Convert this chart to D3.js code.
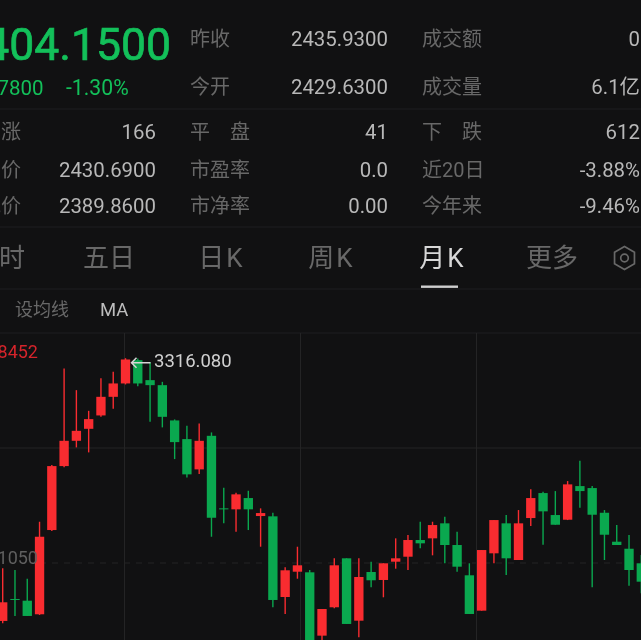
<!DOCTYPE html>
<html>
<head>
<meta charset="utf-8">
<script src="https://cdn.jsdelivr.net/npm/d3@7"></script>
<style>
html, body { margin: 0; padding: 0; background: #111112; overflow: hidden; }
svg { display: block; }
text { font-family: Roboto, "Noto Sans CJK SC", sans-serif; }
</style>
</head>
<body>
<div id="chart"></div>
<script>
// monthly candles
const opens  = [2347.5,2428.5,2422.2,2372.1,2682.6,2918.3,3011.5,3055.7,3105.0,3173.6,3222.9,3308.7,3235.1,3216.6,3086.6,3017.8,2906.2,3029.9,2762.5,2758.9,2800.5,2734.2,2733.1,2435.8,2529.0,2526.8,2293.3,2397.9,2578.4,2348.5,2527.9,2498.5,2565.9,2584.3,2645.8,2652.0,2707.3,2627.4,2515.8,2385.4,2596.8,2707.3,2572.1,2726.8,2818.9,2737.9,2720.6,2844.6,2837.3,2746.3,2639.6,2613.7,2560.0];
const closes = [2416.3,2424.8,2365.9,2657.9,2918.3,3011.5,3048.3,3091.4,3173.6,3222.9,3311.3,3222.9,3216.6,3099.9,3006.7,2887.8,3011.5,2727.9,2758.9,2814.1,2758.9,2745.2,2424.8,2534.2,2552.6,2259.1,2391.6,2552.6,2336.4,2509.5,2497.4,2560.0,2578.4,2645.8,2633.6,2701.0,2627.4,2547.5,2373.2,2608.9,2719.4,2578.4,2707.3,2800.5,2751.5,2702.1,2850.9,2826.2,2739.0,2665.3,2627.4,2535.3,2492.2];
const highs  = [2541.5,2535.3,2503.2,2713.2,2922.0,3278.1,3198.2,3122.0,3242.4,3265.6,3316.08,3315.0,3301.4,3228.8,3090.3,3066.7,3075.6,3042.4,2838.4,2820.0,2827.4,2762.5,2746.3,2545.2,2621.1,2535.3,2391.6,2578.4,2578.4,2578.4,2565.9,2560.0,2652.0,2664.2,2713.2,2713.2,2731.6,2676.3,2560.0,2608.9,2719.4,2737.9,2756.3,2832.5,2823.6,2826.2,2863.1,2937.8,2844.6,2756.3,2701.0,2664.2,2590.6];
const lows   = [2339.0,2365.9,2365.9,2369.6,2678.9,2913.6,2987.2,2968.8,3099.9,3129.4,3219.2,3213.0,3081.5,3060.9,2944.1,2876.7,2888.9,2657.9,2707.3,2676.3,2682.6,2621.1,2397.9,2373.2,2503.2,2248.0,2259.1,2394.2,2336.4,2287.4,2471.6,2434.7,2540.1,2535.3,2615.2,2589.4,2560.0,2529.0,2373.2,2385.4,2560.0,2516.9,2572.1,2697.3,2628.5,2702.1,2719.4,2764.7,2471.6,2572.1,2627.4,2477.5,2449.5];

const maxLabel = "3408.8452";
const midLabel = "2561.1050";
const peakLabel = "3316.080";
const peakValue = 3316.08;
const midValue = 2561.105;
const topValue = 3408.8452;

const priceMain = "2404.1500";
const priceDiff = "-31.7800";
const pricePct = "-1.30%";

const leftLabels = ["上　涨","最高价","最低价"];
const leftValues = ["166","2430.6900","2389.8600"];
const midLabels = ["昨收","今开","平　盘","市盈率","市净率"];
const midValues = ["2435.9300","2429.6300","41","0.0","0.00"];
const rightLabels = ["成交额","成交量","下　跌","近20日","今年来"];
const rightValues = ["0","6.1亿","612","-3.88%","-9.46%"];
const tabs = ["分时","五日","日K","周K","月K","更多"];

const width = 641, height = 640;
const colors = { bg: "#111112", up: "#f92c30", down: "#0aa84f", big: "#13c05a", label: "#686868", value: "#b8b8b8", line: "#1f1f20", grid: "#242425" };

const svg = d3.select("#chart").append("svg")
    .attr("width", width)
    .attr("height", height)
    .style("filter", "blur(0.45px)");

svg.append("rect").attr("width", width).attr("height", height).attr("fill", colors.bg);

function addText(x, y, str, size, fill, anchor) {
    return svg.append("text")
        .attr("x", x).attr("y", y)
        .attr("font-size", size)
        .attr("fill", fill)
        .attr("text-anchor", anchor || "start")
        .text(str);
}

// header
addText(171, 60, priceMain, 44.5, colors.big, "end").attr("stroke", colors.big).attr("stroke-width", 0.7);
addText(43.5, 95, priceDiff, 20.5, colors.big, "end");
addText(66, 95, pricePct, 21.2, colors.big);

const rowY = [45.5, 93.5, 138.5, 176.5, 212.5];
const valY = [46, 94, 139, 177, 213];
midLabels.forEach((d, i) => addText(190, rowY[i], d, 20, colors.label));
midValues.forEach((d, i) => addText(388, valY[i], d, 20.4, colors.value, "end"));
rightLabels.forEach((d, i) => addText(422, rowY[i], d, 20, colors.label));
rightValues.forEach((d, i) => addText(640, valY[i], d, 20.4, colors.value, "end"));
leftLabels.forEach((d, i) => addText(21, rowY[i + 2], d, 20, colors.label, "end"));
leftValues.forEach((d, i) => addText(156, valY[i + 2], d, 20.4, colors.value, "end"));

// separators
[109, 227, 289, 333].forEach(y => {
    svg.append("line").attr("x1", 0).attr("x2", width).attr("y1", y).attr("y2", y)
        .attr("stroke", colors.line).attr("stroke-width", 1);
});

// tabs
const tabX = [25, 135, 244.5, 354.5, 465.5, 578];
const tabLetter = [0, 0, 2, 2, 2, 0];
tabs.forEach((d, i) => addText(tabX[i], 267, d, 26, i === 4 ? "#d8d8d8" : colors.label, "end")
    .attr("letter-spacing", tabLetter[i]));
svg.append("rect").attr("x", 421).attr("y", 285.5).attr("width", 37).attr("height", 2.4).attr("fill", "#cfcfcf");

// settings icon
const hex = d3.range(6).map(i => {
    const a = Math.PI / 3 * i + Math.PI / 6;
    return [624.5 + 11.5 * Math.cos(a), 258 + 11.5 * Math.sin(a)];
});
svg.append("path").attr("d", d3.line()(hex) + "Z").attr("fill", "none").attr("stroke", colors.label).attr("stroke-width", 1.7);
svg.append("circle").attr("cx", 624.5).attr("cy", 258).attr("r", 3.8).attr("fill", "none").attr("stroke", colors.label).attr("stroke-width", 1.7);

addText(15, 316, "设均线", 18, colors.label);
addText(100, 316, "MA", 18.5, "#bdbdbd");

// chart scales
const y = d3.scaleLinear().domain([midValue, topValue]).range([563, 333]);
const x = d3.scaleBand()
    .domain(d3.range(opens.length))
    .range([-3.44, 647.44])
    .paddingInner(0.24)
    .paddingOuter(0.12);

// grid
const grid = svg.append("g").attr("stroke", colors.grid).attr("stroke-width", 1);
[124.5, 300.5, 476.5].forEach(vx => {
    grid.append("line").attr("x1", vx).attr("x2", vx).attr("y1", 333).attr("y2", height);
});
grid.append("line").attr("x1", 0).attr("x2", width).attr("y1", 448).attr("y2", 448);
grid.append("line").attr("x1", 40).attr("x2", width).attr("y1", y(midValue)).attr("y2", y(midValue))
    .attr("stroke-dasharray", "6,6");

// candles
const candles = svg.append("g").selectAll("g")
    .data(opens.map((d, i) => ({ i: i, open: d, close: closes[i], high: highs[i], low: lows[i] })))
    .join("g")
    .attr("fill", d => d.close >= d.open ? colors.up : colors.down)
    .attr("stroke", d => d.close >= d.open ? colors.up : colors.down);

candles.append("line")
    .attr("x1", d => x(d.i) + x.bandwidth() / 2)
    .attr("x2", d => x(d.i) + x.bandwidth() / 2)
    .attr("y1", d => y(d.high))
    .attr("y2", d => y(d.low))
    .attr("stroke-width", 1.4);

candles.append("rect")
    .attr("x", d => x(d.i))
    .attr("width", x.bandwidth())
    .attr("y", d => y(Math.max(d.open, d.close)))
    .attr("height", d => Math.max(1, Math.abs(y(d.open) - y(d.close))))
    .attr("stroke", "none");

// labels on the chart
addText(38, 357.5, maxLabel, 18, "#d5242b", "end");
addText(38, 564, midLabel, 18, "#5f5f5f", "end");

const peakX = x(10) + x.bandwidth() / 2;
const arrowY = y(peakValue) + 4.5;
svg.append("path")
    .attr("d", d3.line()([[peakX + 25, arrowY], [peakX + 6, arrowY]]) + d3.line()([[peakX + 11, arrowY - 5], [peakX + 6, arrowY], [peakX + 11, arrowY + 5]]))
    .attr("fill", "none").attr("stroke", "#d5d5d5").attr("stroke-width", 1.5);
addText(154, 367, peakLabel, 18.5, "#d0d0d0");
</script>
</body>
</html>
